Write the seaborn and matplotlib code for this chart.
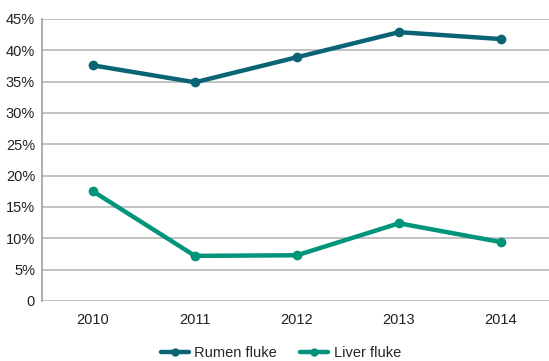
import matplotlib
matplotlib.use("Agg")
import matplotlib.pyplot as plt
import seaborn as sns
import pandas as pd

years = ["2010", "2011", "2012", "2013", "2014"]
rumen_fluke = [37.6, 34.9, 38.9, 42.9, 41.8]
liver_fluke = [17.5, 7.2, 7.3, 12.4, 9.4]
y_ticks = [0, 5, 10, 15, 20, 25, 30, 35, 40, 45]
y_labels = ["0"] + [f"{v}%" for v in y_ticks[1:]]

df = pd.DataFrame({
    "Year": years * 2,
    "Value": rumen_fluke + liver_fluke,
    "Series": ["Rumen fluke"] * len(years) + ["Liver fluke"] * len(years),
})

sns.set_style("white")
plt.rcParams["font.family"] = ["Liberation Sans Narrow", "Liberation Sans", "DejaVu Sans"]

fig = plt.figure(figsize=(5.49, 3.61), dpi=100)
ax = fig.add_axes([42 / 549, 1 - 301 / 361, 510 / 549, 282 / 361])

palette = {"Rumen fluke": "#0b6475", "Liver fluke": "#00957a"}
sns.lineplot(data=df, x="Year", y="Value", hue="Series", palette=palette,
             marker="o", markersize=7, markeredgewidth=0, linewidth=3.2,
             ax=ax, legend=True)

ax.set_xlim(-0.5, 4.5)
ax.set_ylim(0, 45)
ax.set_yticks(y_ticks)
ax.set_yticklabels(y_labels)
ax.set_xlabel("")
ax.set_ylabel("")
ax.grid(axis="y", color="#b8b8b8", linewidth=1.2)
ax.set_axisbelow(True)
for s in ["top", "right", "bottom"]:
    ax.spines[s].set_visible(False)
ax.spines["left"].set_color("#a0a0a0")
ax.spines["left"].set_linewidth(1.2)
ax.tick_params(axis="both", length=0, labelsize=10.5, colors="#222222", pad=5)
ax.tick_params(axis="x", pad=9)

handles, labels = ax.get_legend_handles_labels()
for h in handles:
    h.set_markersize(6)
ax.legend(handles, labels, loc="center", bbox_to_anchor=(281 / 549, 1 - 353 / 361),
          bbox_transform=fig.transFigure, ncol=2, frameon=False, fontsize=10.5,
          handlelength=1.9, columnspacing=1.6, handletextpad=0.4)

fig.savefig("out.png", dpi=100)
